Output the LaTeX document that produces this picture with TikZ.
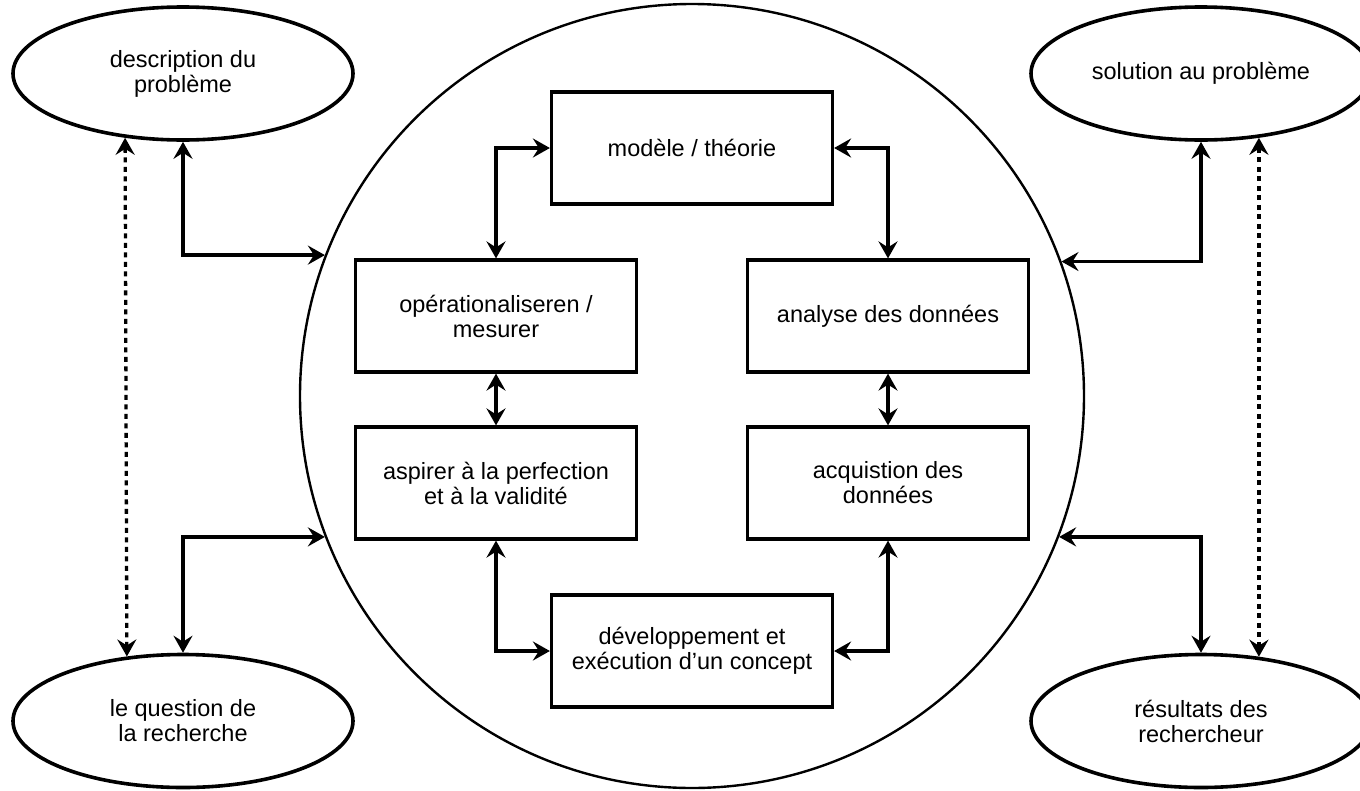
\documentclass[tikz,border=0pt]{standalone}
\usepackage{fontspec}
\setmainfont{Liberation Sans}
\usetikzlibrary{shapes.geometric,arrows.meta}
\begin{document}
\begin{tikzpicture}[x=1pt,y=-1pt,
  every node/.style={font=\fontsize{23.5}{25}\selectfont, align=center},
  box/.style={draw, line width=3.2pt, minimum width=281pt, minimum height=112pt, inner sep=0pt},
  oval/.style={draw, ellipse, line width=3.6pt, minimum width=340pt, minimum height=133pt, inner sep=0pt},
  tip/.tip={Stealth[length=17pt,width=19pt,inset=6pt]},
  conn/.style={line width=3.3pt, tip-tip},
  dotconn/.style={conn, dash pattern=on 5pt off 4.5pt}
]
\useasboundingbox (0,0) rectangle (1360,790);
\clip (0,0) rectangle (1360,790);

\node[draw, circle, line width=2.4pt, minimum size=784pt, inner sep=0pt] (circ) at (692,396) {};

\node[oval] (tl) at (183,73.5) {description du\\problème};
\node[oval] (bl) at (183,721) {le question de\\la recherche};
\node[oval] (tr) at (1201,73.5) {solution au problème};
\node[oval] (br) at (1201,721) {résultats des\\rechercheur};

\node[box] (model) at (692,148) {modèle / théorie};
\node[box] (oper) at (496,316) {opérationaliseren /\\mesurer};
\node[box] (analyse) at (888,316) {analyse des données};
\node[box] (aspir) at (496,483) {aspirer à la perfection\\et à la validité};
\node[box] (acq) at (888,483) {acquistion des\\données};
\node[box] (dev) at (692,651) {développement et\\exécution d'un concept};

\draw[conn] (tl.south) |- (circ.159.5);
\draw[conn] (bl.north) |- (circ.201.4);
\draw[conn] (tr.south) |- (circ.20.5);
\draw[conn] (br.north) |- (circ.-21.4);

\draw[dotconn] (tl.228.8) -- (bl.131.2);
\draw[dotconn] (tr.-48.8) -- (br.48.8);

\draw[conn] (model.west) -| (oper.north);
\draw[conn] (model.east) -| (analyse.north);
\draw[conn] (oper.south) -- (aspir.north);
\draw[conn] (analyse.south) -- (acq.north);
\draw[conn] (aspir.south) |- (dev.west);
\draw[conn] (acq.south) |- (dev.east);
\end{tikzpicture}
\end{document}
